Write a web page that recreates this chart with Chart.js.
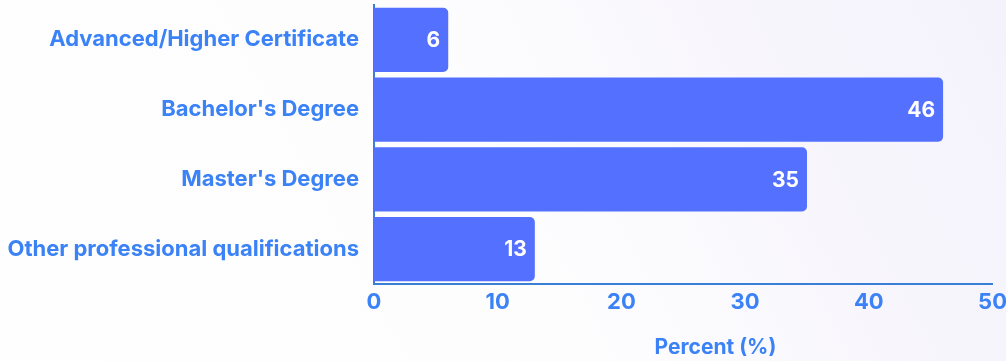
<!DOCTYPE html>
<html>
<head>
<meta charset="utf-8">
<script src="https://cdn.jsdelivr.net/npm/chart.js@4/dist/chart.umd.min.js"></script>
<style>
  html, body { margin: 0; padding: 0; overflow: hidden; }
  body {
    width: 1006px; height: 361px;
    background: linear-gradient(62deg, #fefefe 0%, #fdfdfe 50%, #f7f5fc 80%, #f4f2fb 100%);
  }
  #wrap { position: relative; width: 1012px; height: 361px; }
</style>
</head>
<body>
<div id="wrap"><canvas id="chart"></canvas></div>
<script>
// Qualification categories and their share in percent
const categories = [
  "Advanced/Higher Certificate",
  "Bachelor's Degree",
  "Master's Degree",
  "Other professional qualifications"
];
const percentValues = [6, 46, 35, 13];
const xTicks = [0, 10, 20, 30, 40, 50];
const axisTitle = "Percent (%)";

const FONT = "Inter, 'Open Sans', sans-serif";
const TEXT_BLUE = "#3b82f6";
const BAR_BLUE = "#5470ff";
const AXIS_BLUE = "#3a7fd6";

// Writes each value in white just inside the end of its bar
const barValueLabels = {
  id: "barValueLabels",
  afterDatasetsDraw(chart) {
    const { ctx } = chart;
    const meta = chart.getDatasetMeta(0);
    const data = chart.data.datasets[0].data;
    ctx.save();
    ctx.fillStyle = "#ffffff";
    ctx.font = "700 21px " + FONT;
    ctx.textAlign = "right";
    ctx.textBaseline = "middle";
    meta.data.forEach((bar, i) => {
      ctx.fillText(String(data[i]), bar.x - 8, bar.y + 1);
    });
    ctx.restore();
  }
};

// Axis title under the value axis
const valueAxisTitle = {
  id: "valueAxisTitle",
  afterDraw(chart) {
    const { ctx, chartArea } = chart;
    ctx.save();
    ctx.fillStyle = TEXT_BLUE;
    ctx.font = "700 21px " + FONT;
    ctx.textAlign = "center";
    ctx.textBaseline = "middle";
    ctx.fillText(axisTitle, chartArea.left + chartArea.width * 0.552, 348);
    ctx.restore();
  }
};

new Chart(document.getElementById("chart"), {
  type: "bar",
  data: {
    labels: categories,
    datasets: [{
      data: percentValues,
      backgroundColor: BAR_BLUE,
      borderRadius: 5,
      borderSkipped: "start",
      barPercentage: 0.92,
      categoryPercentage: 1.0
    }]
  },
  options: {
    indexAxis: "y",
    responsive: true,
    maintainAspectRatio: false,
    animation: false,
    layout: { padding: { top: 5, right: 8, left: 0, bottom: 0 } },
    plugins: {
      legend: { display: false },
      tooltip: { enabled: false }
    },
    scales: {
      x: {
        min: 0,
        max: 50,
        afterBuildTicks(scale) {
          scale.ticks = xTicks.map(v => ({ value: v }));
        },
        afterFit(scale) { scale.height = 77; },
        grid: { display: false, drawTicks: false },
        border: { display: true, color: AXIS_BLUE, width: 2 },
        ticks: {
          color: TEXT_BLUE,
          font: { family: FONT, size: 22, weight: "700" },
          padding: 5
        }
      },
      y: {
        afterFit(scale) {
          scale.width = 374;
          scale.paddingTop = 0;
          scale.paddingBottom = 0;
        },
        grid: { display: false, drawTicks: false },
        border: { display: true, color: AXIS_BLUE, width: 2 },
        ticks: {
          color: TEXT_BLUE,
          font: { family: FONT, size: 22, weight: "700" },
          padding: 15
        }
      }
    }
  },
  plugins: [barValueLabels, valueAxisTitle]
});
</script>
</body>
</html>
